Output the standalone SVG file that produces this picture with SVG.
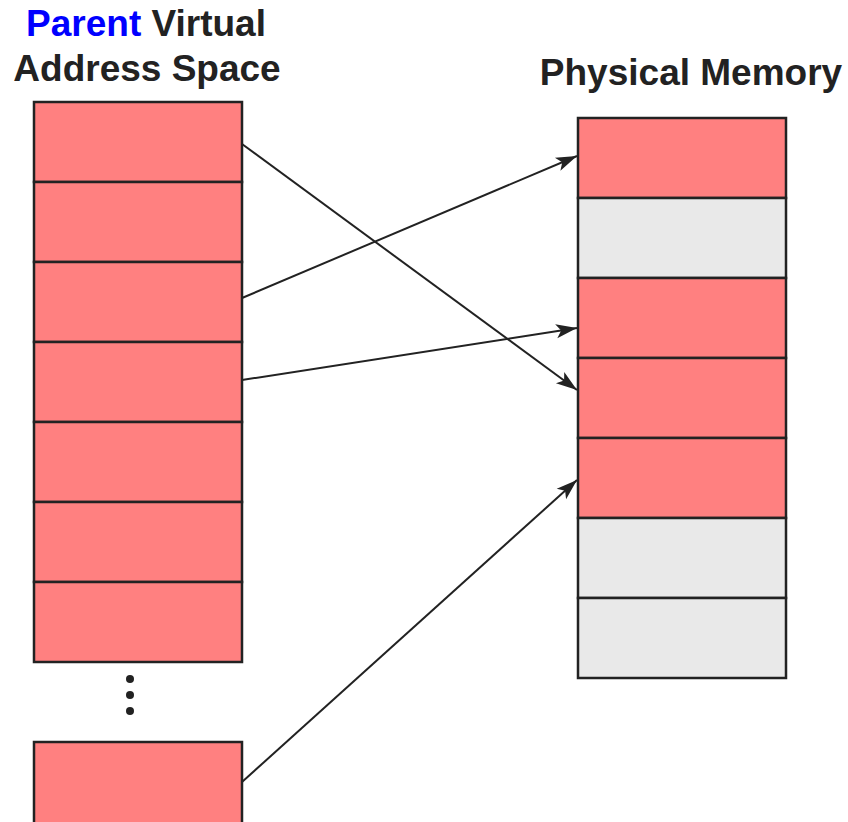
<svg xmlns="http://www.w3.org/2000/svg" width="848" height="822" viewBox="0 0 848 822">
<style>
.r{fill:#FF8080;stroke:#222;stroke-width:2.5}
.g{fill:#E9E9E9;stroke:#222;stroke-width:2.5}
.t{font-family:"Liberation Sans",Arial,sans-serif;font-weight:bold;font-size:37px;fill:#222;text-anchor:middle}
.c{fill:none;stroke:#222;stroke-width:2;marker-end:url(#ah)}
</style>
<defs>
<marker id="ah" markerWidth="12" markerHeight="12" viewBox="0 0 12 12" refX="11" refY="6" orient="auto" markerUnits="userSpaceOnUse" overflow="visible">
<path d="M-10,-1 L11,6 L-10,13 L-5,6 Z" fill="#222"/>
</marker>
</defs>
<rect width="848" height="822" fill="#fff"/>
<g id="title-left"><text class="t" x="146" y="36"><tspan fill="#0000FF">Parent</tspan> Virtual</text><text class="t" x="147" y="81">Address Space</text></g>
<g id="title-right"><text class="t" x="691" y="85">Physical Memory</text></g>
<g id="virtual">
<rect class="r" x="34" y="102" width="208" height="80"/>
<rect class="r" x="34" y="182" width="208" height="80"/>
<rect class="r" x="34" y="262" width="208" height="80"/>
<rect class="r" x="34" y="342" width="208" height="80"/>
<rect class="r" x="34" y="422" width="208" height="80"/>
<rect class="r" x="34" y="502" width="208" height="80"/>
<rect class="r" x="34" y="582" width="208" height="80"/>
<rect class="r" x="34" y="742" width="208" height="90"/>
</g>
<g id="dots" fill="#222"><circle cx="130" cy="679" r="4"/><circle cx="130" cy="695" r="4"/><circle cx="130" cy="711" r="4"/></g>
<g id="physical">
<rect class="r" x="578" y="118" width="208" height="80"/>
<rect class="g" x="578" y="198" width="208" height="80"/>
<rect class="r" x="578" y="278" width="208" height="80"/>
<rect class="r" x="578" y="358" width="208" height="80"/>
<rect class="r" x="578" y="438" width="208" height="80"/>
<rect class="g" x="578" y="518" width="208" height="80"/>
<rect class="g" x="578" y="598" width="208" height="80"/>
</g>
<g id="connectors">
<line class="c" x1="242" y1="144" x2="577" y2="390"/>
<line class="c" x1="242" y1="298" x2="577" y2="156"/>
<line class="c" x1="242" y1="380" x2="577" y2="328"/>
<line class="c" x1="242" y1="782" x2="577" y2="480"/>
</g>
</svg>
